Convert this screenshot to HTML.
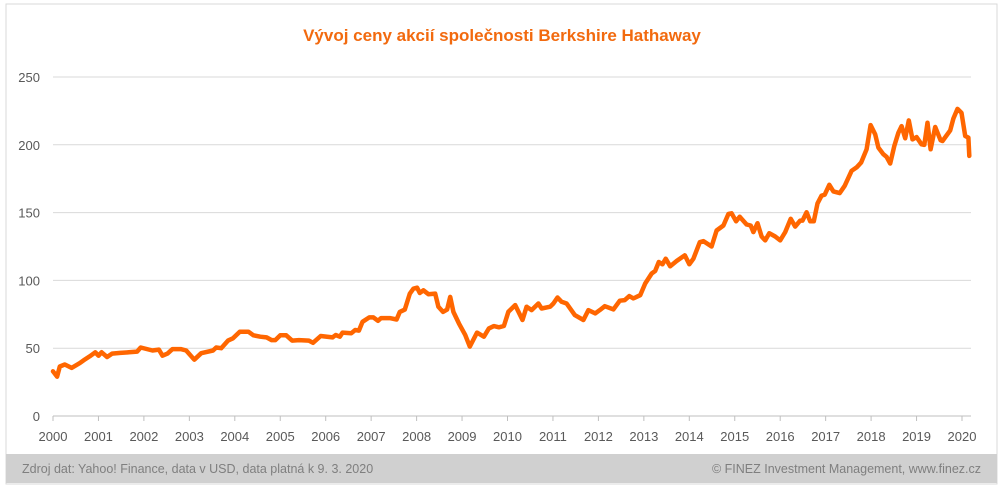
<!DOCTYPE html>
<html><head><meta charset="utf-8"><style>
html,body{margin:0;padding:0;background:#fff;}
svg{display:block;font-family:"Liberation Sans",sans-serif;}
</style></head><body>
<svg width="1004" height="488" viewBox="0 0 1004 488">
<rect x="6" y="4" width="991" height="480" fill="#fff" stroke="#d9d9d9" stroke-width="1"/>
<text x="502" y="41" text-anchor="middle" font-size="17" font-weight="bold" fill="#f26a0f">Vývoj ceny akcií společnosti Berkshire Hathaway</text>
<g id="grid"></g>
<g id="yticks"></g>
<g id="xaxis"></g>
<path id="line" fill="none" stroke="#ff6600" stroke-width="4.5" stroke-linejoin="round" stroke-linecap="round"/>
<rect x="6" y="454" width="991" height="29" fill="#d0d0d0"/>
<text x="22" y="473" font-size="12.5" fill="#7f7f7f">Zdroj dat: Yahoo! Finance, data v USD, data platná k 9. 3. 2020</text>
<text x="981" y="473" text-anchor="end" font-size="12.5" fill="#7f7f7f">© FINEZ Investment Management, www.finez.cz</text>
</svg>
<script>
const dates=[2000.0,2000.09,2000.15,2000.26,2000.41,2000.59,2000.67,2000.81,2000.93,2001.0,2001.07,2001.19,2001.3,2001.48,2001.67,2001.85,2001.93,2002.19,2002.33,2002.41,2002.52,2002.63,2002.81,2002.93,2003.11,2003.26,2003.52,2003.59,2003.7,2003.85,2003.96,2004.11,2004.3,2004.41,2004.56,2004.7,2004.81,2004.89,2005.0,2005.13,2005.26,2005.41,2005.63,2005.72,2005.89,2006.15,2006.22,2006.31,2006.37,2006.56,2006.65,2006.73,2006.81,2006.96,2007.05,2007.15,2007.22,2007.41,2007.56,2007.63,2007.74,2007.85,2007.93,2008.01,2008.07,2008.15,2008.26,2008.41,2008.48,2008.58,2008.67,2008.74,2008.81,2008.93,2009.07,2009.17,2009.33,2009.48,2009.59,2009.7,2009.81,2009.92,2010.02,2010.17,2010.33,2010.42,2010.53,2010.68,2010.75,2010.94,2011.01,2011.1,2011.19,2011.3,2011.48,2011.67,2011.78,2011.93,2012.03,2012.14,2012.33,2012.47,2012.58,2012.68,2012.77,2012.92,2013.03,2013.17,2013.25,2013.33,2013.41,2013.48,2013.58,2013.72,2013.9,2014.0,2014.09,2014.23,2014.31,2014.49,2014.6,2014.75,2014.86,2014.93,2015.03,2015.11,2015.26,2015.35,2015.41,2015.5,2015.59,2015.67,2015.76,2015.89,2016.0,2016.11,2016.23,2016.33,2016.44,2016.49,2016.58,2016.66,2016.74,2016.82,2016.91,2016.98,2017.08,2017.17,2017.31,2017.42,2017.57,2017.68,2017.78,2017.9,2017.99,2018.09,2018.16,2018.27,2018.34,2018.42,2018.51,2018.6,2018.67,2018.75,2018.83,2018.91,2019.0,2019.11,2019.17,2019.24,2019.31,2019.41,2019.53,2019.57,2019.74,2019.81,2019.9,2019.99,2020.07,2020.14,2020.16];
const prices=[33,29,36.5,38,35.5,39,41,44,47,44.5,47,43.5,46,46.5,47,47.5,50.5,48.3,49,44.5,46,49.3,49.3,48.3,41.5,46.3,48.3,50.5,50,55.6,57.3,62.2,62.2,59.5,58.5,58,56,56,59.5,59.5,55.6,56,55.6,54,59,58,59.7,58.5,61.5,61,63.4,63,69.5,72.7,72.7,70.2,72.2,72.2,71.2,76.8,78.5,90.2,93.9,94.6,90.7,92.7,89.8,90.3,80.5,76.8,78.5,87.8,76.8,68.3,59.8,51.2,61.5,58.5,64.6,66.3,65.4,66.4,76.9,81.8,70.8,80.6,78.1,83,79.3,80.6,83,87.4,84.2,83,74.4,70.8,78.1,75.7,78.1,81,78.6,85,85.5,88.4,86.7,89.1,97.7,105,107,113.6,111.9,116,110.4,114.3,118.5,111.9,116,128.2,129,125,136.8,140.5,149,149.5,143.6,147,141.2,140.5,135.6,142.2,132.4,129.5,134.8,132.4,129.5,135.6,145.4,139.7,144.1,144.1,150.2,143.6,143.6,156.8,162.5,163.2,170.5,165.6,164.4,169.8,180.8,183.3,186.9,196.7,214.5,207.7,197.9,193,191.1,186.2,199.1,208.9,213.8,204.8,218,204,205.7,200.4,199.9,216.3,196.7,213.1,203.3,202.8,210.6,219.4,226.5,223.6,206.5,205.3,191.8];
const yTicks=[0,50,100,150,200,250];
const xTicks=[2000,2001,2002,2003,2004,2005,2006,2007,2008,2009,2010,2011,2012,2013,2014,2015,2016,2017,2018,2019,2020];
const NS="http://www.w3.org/2000/svg";
const X0=53,PXY=45.45,Y0=416,PXV=1.356,XR=971;
function xs(t){return X0+(t-2000)*PXY;}
function ys(v){return Y0-v*PXV;}
const grid=document.getElementById('grid'),yl=document.getElementById('yticks'),xa=document.getElementById('xaxis');
yTicks.forEach(v=>{
  if(v>0){const l=document.createElementNS(NS,'line');
  
  
  l.setAttribute('x1',X0);l.setAttribute('x2',XR);l.setAttribute('y1',ys(v));l.setAttribute('y2',ys(v));
  l.setAttribute('stroke','#d9d9d9');l.setAttribute('stroke-width','1');grid.appendChild(l);}
  const t=document.createElementNS(NS,'text');
  
  
  t.setAttribute('x',40);t.setAttribute('y',ys(v)+5);t.setAttribute('text-anchor','end');
  t.setAttribute('font-size','13');t.setAttribute('fill','#595959');t.textContent=v;yl.appendChild(t);
});
const ax=document.createElementNS(NS,'line');


ax.setAttribute('x1',X0);ax.setAttribute('x2',XR);ax.setAttribute('y1',Y0);ax.setAttribute('y2',Y0);
ax.setAttribute('stroke','#bfbfbf');xa.appendChild(ax);
xTicks.forEach(y=>{
  const k=document.createElementNS(NS,'line');
  
  
  k.setAttribute('x1',xs(y));k.setAttribute('x2',xs(y));k.setAttribute('y1',Y0);k.setAttribute('y2',Y0+5);
  k.setAttribute('stroke','#bfbfbf');xa.appendChild(k);
  const t=document.createElementNS(NS,'text');
  
  
  t.setAttribute('x',xs(y));t.setAttribute('y',441);t.setAttribute('text-anchor','middle');
  t.setAttribute('font-size','13');t.setAttribute('fill','#595959');t.textContent=y;xa.appendChild(t);
});
document.getElementById('line').setAttribute('d',dates.map((d,i)=>(i?'L':'M')+xs(d).toFixed(1)+' '+ys(prices[i]).toFixed(1)).join(' '));
</script>
</body></html>
